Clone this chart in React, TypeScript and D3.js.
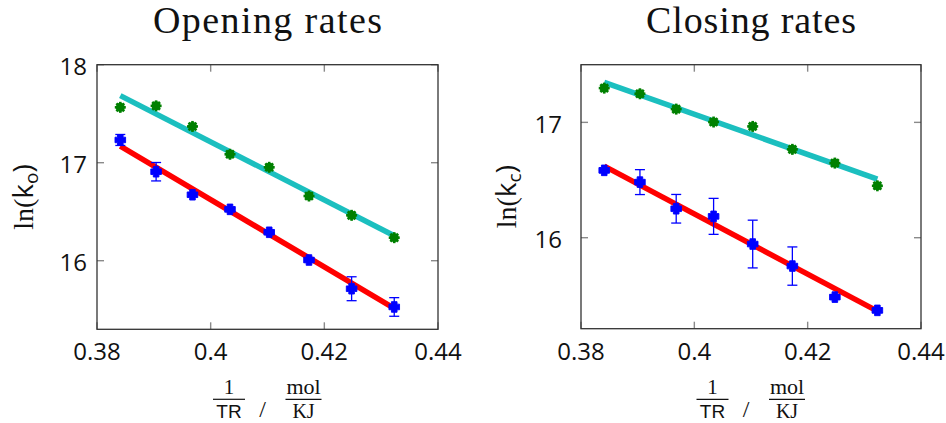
import React from 'react';
import * as d3 from 'd3';

// 1/(R·T) in mol/kJ for each measurement temperature
const invTR = [0.3841, 0.3904, 0.3968, 0.4034, 0.4103, 0.4173, 0.4248, 0.4323];

// Opening rates
const openingUpper = [17.565, 17.58, 17.37, 17.086, 16.953, 16.66, 16.463, 16.235];
const openingLower = [17.232, 16.908, 16.673, 16.524, 16.29, 16.007, 15.714, 15.528];
const openingLowerErr = [0.056, 0.094, 0.02, 0.02, 0.02, 0.02, 0.122, 0.095];
const openingUpperFit = [17.684, 16.255];
const openingLowerFit = [17.17, 15.514];

// Closing rates
const closingUpper = [17.297, 17.248, 17.115, 17.003, 16.965, 16.766, 16.647, 16.45];
const closingLower = [16.584, 16.482, 16.251, 16.185, 15.945, 15.754, 15.485, 15.37];
const closingLowerErr = [0.02, 0.108, 0.124, 0.156, 0.207, 0.166, 0.02, 0.02];
const closingUpperFit = [17.347, 16.508];
const closingLowerFit = [16.621, 15.363];

const fitX = [0.3841, 0.4323];
const xTicks = [0.38, 0.4, 0.42, 0.44];
const xTickLabels = ['0.38', '0.4', '0.42', '0.44'];
const openingYTicks = [16, 17, 18];
const closingYTicks = [16, 17];

const SERIF = '"Liberation Serif", "DejaVu Serif", serif';
const SANS = '"Open Sans", "Noto Sans", sans-serif';
const SANS_TIGHT = '"Liberation Sans", "DejaVu Sans", sans-serif';

type PanelProps = {
  title: string;
  sub: string;
  x0: number;
  x1: number;
  top: number;
  bottom: number;
  yDomain: [number, number];
  yTicks: number[];
  labelRight: number;
  yLabelX: number;
  titleWidth: number;
  upper: number[];
  lower: number[];
  lowerErr: number[];
  upperFit: number[];
  lowerFit: number[];
};

function Panel(p: PanelProps) {
  const x = d3.scaleLinear().domain([0.38, 0.44]).range([p.x0, p.x1]);
  const y = d3.scaleLinear().domain(p.yDomain).range([p.bottom, p.top]);
  const line = d3
    .line<[number, number]>()
    .x((d) => x(d[0]))
    .y((d) => y(d[1]));
  const cx = (p.x0 + p.x1) / 2;
  const cy = (p.top + p.bottom) / 2;
  const tickLen = 7;
  const fitPts = (v: number[]) => fitX.map((xx, i) => [xx, v[i]] as [number, number]);

  return (
    <g>
      <text
        x={cx}
        y={33}
        textAnchor="middle"
        fontFamily={SERIF}
        fontSize={38}
        textLength={p.titleWidth}
        lengthAdjust="spacing"
        fill="#111"
      >
        {p.title}
      </text>

      {/* ticks, mirrored on all four sides */}
      {xTicks.map((t) => (
        <g key={'xt' + t} stroke="#8a8a8a" strokeWidth={1.4}>
          <line x1={x(t)} x2={x(t)} y1={p.bottom} y2={p.bottom - tickLen} />
          <line x1={x(t)} x2={x(t)} y1={p.top} y2={p.top + tickLen} />
        </g>
      ))}
      {p.yTicks.map((t) => (
        <g key={'yt' + t} stroke="#8a8a8a" strokeWidth={1.4}>
          <line x1={p.x0} x2={p.x0 + tickLen} y1={y(t)} y2={y(t)} />
          <line x1={p.x1} x2={p.x1 - tickLen} y1={y(t)} y2={y(t)} />
        </g>
      ))}

      {/* fitted lines */}
      <path d={line(fitPts(p.upperFit)) || ''} stroke="#1bbfbf" strokeWidth={5.5} fill="none" />
      <path d={line(fitPts(p.lowerFit)) || ''} stroke="#ff0000" strokeWidth={5.5} fill="none" />

      {/* upper series markers */}
      {invTR.map((xx, i) => (
        <g key={'u' + i} transform={`translate(${x(xx)},${y(p.upper[i])})`}>
          <circle r={4.5} fill="#008000" />
          {[0, 45, 90, 135].map((a) => (
            <line
              key={a}
              x1={-5.5}
              x2={5.5}
              y1={0}
              y2={0}
              stroke="#008000"
              strokeWidth={2.6}
              transform={`rotate(${a})`}
            />
          ))}
        </g>
      ))}

      {/* lower series with error bars */}
      {invTR.map((xx, i) => {
        const px = x(xx);
        const yTop = y(p.lower[i] + p.lowerErr[i]);
        const yBot = y(p.lower[i] - p.lowerErr[i]);
        return (
          <g key={'l' + i}>
            <g stroke="#0000ff" strokeWidth={1.3}>
              <line x1={px} x2={px} y1={yTop} y2={yBot} />
              <line x1={px - 5} x2={px + 5} y1={yTop} y2={yTop} />
              <line x1={px - 5} x2={px + 5} y1={yBot} y2={yBot} />
            </g>
            <path
              transform={`translate(${px},${y(p.lower[i])})`}
              d="M-2.8,-5.3H2.8V-2.8H5.3V2.8H2.8V5.3H-2.8V2.8H-5.3V-2.8H-2.8Z"
              fill="#0000ff"
              stroke="#0000ff"
              strokeWidth={0.9}
              strokeLinejoin="round"
            />
          </g>
        );
      })}

      {/* frame */}
      <rect
        x={p.x0}
        y={p.top}
        width={p.x1 - p.x0}
        height={p.bottom - p.top}
        fill="none"
        stroke="#333"
        strokeWidth={1.3}
      />

      {/* tick labels */}
      {xTicks.map((t, i) => (
        <text
          key={'xl' + t}
          x={x(t)}
          y={360}
          textAnchor="middle"
          fontFamily={SANS}
          fontSize={24}
          fill="#111"
        >
          {xTickLabels[i]}
        </text>
      ))}
      {p.yTicks.map((t) => (
        <text
          key={'yl' + t}
          x={p.labelRight}
          y={y(t) + 10.5}
          textAnchor="end"
          fontFamily={SANS}
          fontSize={24}
          fill="#111"
        >
          {t}
        </text>
      ))}

      {/* y axis label */}
      <text
        transform={`translate(${p.yLabelX},${cy}) rotate(-90)`}
        textAnchor="middle"
        fontSize={28}
        fill="#111"
      >
        <tspan fontFamily={SERIF}>ln(</tspan>
        <tspan fontFamily={SANS}>k</tspan>
        <tspan fontFamily={SANS} fontSize={19} dy={5}>
          {p.sub}
        </tspan>
        <tspan fontFamily={SANS} dy={-5}>
          )
        </tspan>
      </text>

      {/* x axis label: 1/TR / mol/KJ */}
      <g fill="#111">
        <text x={cx - 38.5} y={394} textAnchor="middle" fontFamily={SERIF} fontSize={21}>
          1
        </text>
        <line x1={cx - 54.5} x2={cx - 22.5} y1={399.3} y2={399.3} stroke="#111" strokeWidth={1.2} />
        <text x={cx - 38.5} y={418} textAnchor="middle" fontFamily={SANS_TIGHT} fontSize={19}>
          TR
        </text>
        <text x={cx - 5} y={417} textAnchor="middle" fontFamily={SERIF} fontSize={24}>
          /
        </text>
        <text x={cx + 36} y={394} textAnchor="middle" fontFamily={SERIF} fontSize={22}>
          mol
        </text>
        <line x1={cx + 18} x2={cx + 54} y1={399.3} y2={399.3} stroke="#111" strokeWidth={1.2} />
        <text x={cx + 36} y={418} textAnchor="middle" fontFamily={SERIF} fontSize={20}>
          KJ
        </text>
      </g>
    </g>
  );
}

export default function App() {
  return (
    <svg
      width={946}
      height={423}
      style={{ position: 'absolute', left: 0, top: 0, background: '#fff' }}
    >
      <rect width={946} height={423} fill="#fff" />
      <Panel
        title="Opening rates"
        sub="o"
        x0={97}
        x1={438}
        top={64.7}
        bottom={329.3}
        yDomain={[15.3, 18]}
        yTicks={openingYTicks}
        labelRight={87}
        yLabelX={33}
        titleWidth={229}
        upper={openingUpper}
        lower={openingLower}
        lowerErr={openingLowerErr}
        upperFit={openingUpperFit}
        lowerFit={openingLowerFit}
      />
      <Panel
        title="Closing rates"
        sub="c"
        x0={581}
        x1={921}
        top={64.7}
        bottom={328.7}
        yDomain={[15.211, 17.5]}
        yTicks={closingYTicks}
        labelRight={562}
        yLabelX={516}
        titleWidth={210}
        upper={closingUpper}
        lower={closingLower}
        lowerErr={closingLowerErr}
        upperFit={closingUpperFit}
        lowerFit={closingLowerFit}
      />
    </svg>
  );
}
